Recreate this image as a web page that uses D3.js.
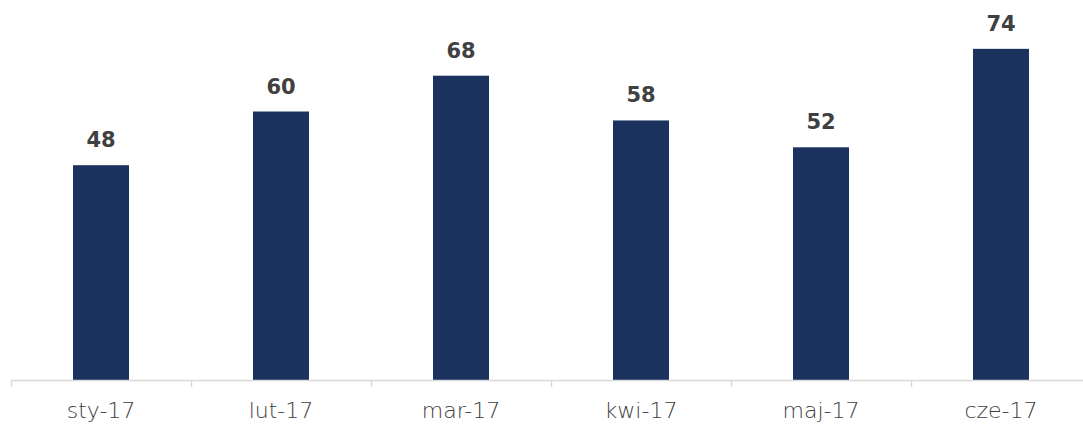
<!DOCTYPE html>
<meta charset="utf-8">
<script src="https://d3js.org/d3.v7.min.js"></script>
<style>
  body { margin: 0; background: #fff; }
</style>
<div id="my_dataviz"></div>
<script>
  // data
  var months = ["sty-17", "lut-17", "mar-17", "kwi-17", "maj-17", "cze-17"];
  var values = [48, 60, 68, 58, 52, 74];

  var W = 1083, H = 424;
  var margin = {top: 22, left: 11, bottom: 44};
  var plotH = H - margin.top - margin.bottom;

  var svg = d3.select("#my_dataviz")
    .append("svg")
      .attr("width", W)
      .attr("height", H);

  // x scale: one 180px band per month
  var x = d3.scaleBand()
    .domain(months)
    .range([margin.left, margin.left + 180 * months.length])
    .paddingInner(0.689)
    .paddingOuter(0.3445);

  var y = d3.scaleLinear()
    .domain([0, 80])
    .range([margin.top + plotH, margin.top]);

  var base = y(0);

  // bars
  svg.append("g")
    .selectAll("rect")
    .data(values)
    .enter().append("rect")
      .attr("x", function(d, i) { return x(months[i]); })
      .attr("y", function(d) { return y(d); })
      .attr("width", x.bandwidth())
      .attr("height", function(d) { return base - y(d); })
      .attr("fill", "#1b325f");

  // value labels
  svg.append("g")
    .selectAll("text")
    .data(values)
    .enter().append("text")
      .attr("x", function(d, i) { return x(months[i]) + x.bandwidth() / 2; })
      .attr("y", function(d) { return y(d) - 18; })
      .attr("text-anchor", "middle")
      .style("font-family", "'DejaVu Sans', sans-serif")
      .style("font-weight", "bold")
      .style("font-size", "21px")
      .style("fill", "#404040")
      .text(function(d) { return d; });

  // axis line + boundary ticks
  var step = x.step();
  var bounds = d3.range(months.length + 1).map(function(i) { return margin.left + i * step; });
  var ax = svg.append("g");
  ax.append("line")
    .attr("x1", margin.left).attr("x2", W)
    .attr("y1", base + 0.5).attr("y2", base + 0.5)
    .attr("stroke", "#d9d9d9").attr("stroke-width", 1.5);
  ax.selectAll(".tk")
    .data(bounds)
    .enter().append("line")
      .attr("x1", function(d) { return d + 0.5; })
      .attr("x2", function(d) { return d + 0.5; })
      .attr("y1", base)
      .attr("y2", base + 7)
      .attr("stroke", "#d9d9d9").attr("stroke-width", 1.5);

  // category labels
  svg.append("g")
    .selectAll("text")
    .data(months)
    .enter().append("text")
      .attr("x", function(d) { return x(d) + x.bandwidth() / 2; })
      .attr("y", base + 38)
      .attr("text-anchor", "middle")
      .style("font-family", "'DejaVu Sans', sans-serif")
      .style("font-weight", "200")
      .style("font-size", "22px")
      .style("fill", "#404040")
      .text(function(d) { return d; });
</script>
